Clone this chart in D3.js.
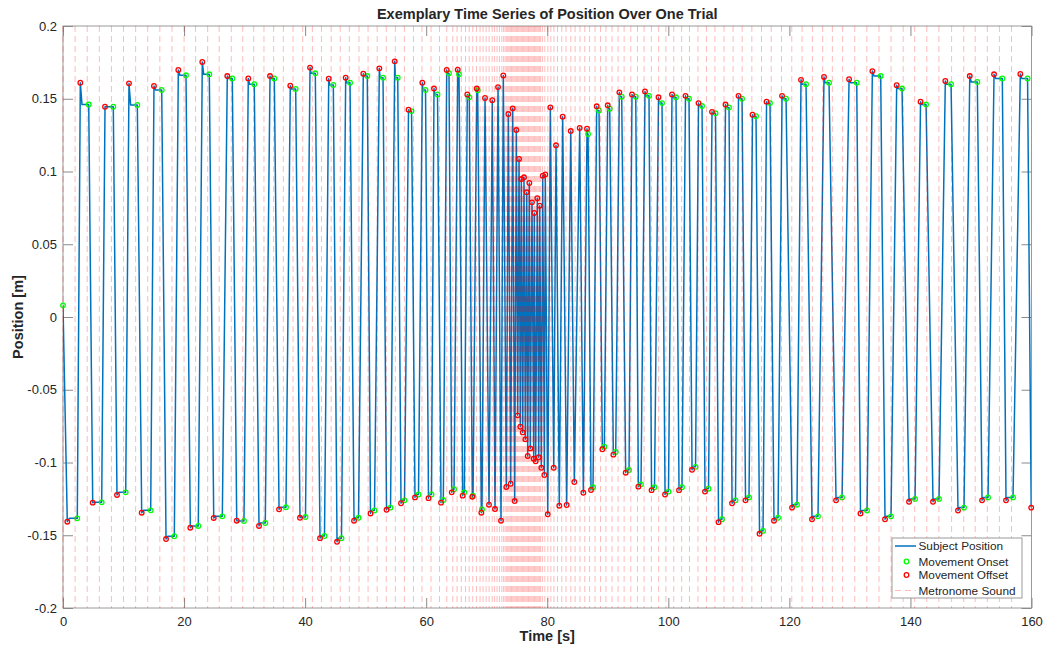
<!DOCTYPE html>
<html>
<head>
<meta charset="utf-8">
<script src="https://cdn.jsdelivr.net/npm/d3@7"></script>
<style>
  body { margin: 0; background: #fff; }
  svg { display: block; }
  text { font-family: "Liberation Sans", Arial, Helvetica, sans-serif; fill: #262626; }
</style>
</head>
<body>
<svg id="chart" width="1044" height="648"></svg>
<script>
// ---- data (time in s, position in m) ----
const onsetTime = [0.00, 2.36, 4.25, 6.39, 8.31, 10.36, 12.28, 14.49, 16.31, 18.39,
  20.32, 22.35, 24.17, 26.32, 27.97, 29.90, 31.60, 33.42, 34.91, 36.84,
  38.44, 40.06, 41.68, 43.20, 44.66, 46.01, 47.42, 48.82, 50.27, 51.46,
  52.87, 54.11, 55.30, 56.42, 57.58, 58.73, 59.89, 60.88, 61.87, 62.83,
  63.77, 64.60, 65.42, 66.30, 67.12, 67.74, 68.51, 69.22,
  86.74, 87.56, 88.55, 89.43, 90.32, 91.31, 92.30, 93.51, 94.62,
  95.49, 96.81, 97.72, 98.96, 100.03, 101.27, 102.26, 103.42, 104.50, 105.57,
  106.64, 107.80, 108.87, 110.03, 111.10, 112.18, 113.33, 114.49, 115.65, 116.80,
  118.13, 119.45, 121.26, 122.75, 124.73, 126.55, 128.70, 131.13, 132.83, 135.09,
  136.79, 138.61, 140.76, 142.58, 144.72, 146.71, 148.85, 151.05, 152.82, 155.18, 156.95,
  159.35];

const onsetPos = [0.008, -0.1384, 0.146, -0.1274, 0.1445, -0.1205, 0.1457, -0.1329, 0.156, -0.1507,
  0.1661, -0.1436, 0.1668, -0.137, 0.164, -0.1402, 0.160, -0.1416, 0.164, -0.1308,
  0.1567, -0.1375, 0.1675, -0.1505, 0.1595, -0.152, 0.161, -0.138, 0.1656, -0.133,
  0.1645, -0.131, 0.1645, -0.126, 0.1415, -0.122, 0.156, -0.122, 0.153, -0.1258,
  0.1675, -0.1184, 0.1668, -0.1205, 0.151, -0.1228, 0.1558, -0.1322,
  0.1258, -0.117, 0.142, -0.0891, 0.1432, -0.0928, 0.1514, -0.1052, 0.1514,
  -0.115, 0.152, -0.117, 0.147, -0.120, 0.151, -0.117, 0.150, -0.103, 0.145,
  -0.118, 0.140, -0.139, 0.144, -0.126, 0.150, -0.124, 0.138, -0.147, 0.147,
  -0.138, 0.150, -0.129, 0.160, -0.137, 0.161, -0.124, 0.161, -0.133, 0.1656,
  -0.137, 0.157, -0.125, 0.146, -0.125, 0.160, -0.131, 0.1615, -0.124, 0.164, -0.124,
  0.164];

const offsetTime = [0.71, 2.86, 4.91, 6.94, 8.92, 10.90, 13.00, 15.03, 17.02, 19.05,
  21.03, 23.01, 24.90, 27.14, 28.70, 30.61, 32.38, 34.20, 35.69, 37.55,
  39.15, 40.81, 42.46, 43.90, 45.27, 46.70, 48.08, 49.61, 50.80, 52.26,
  53.45, 54.80, 55.84, 57.08, 58.15, 59.36, 60.38, 61.29, 62.45, 63.39,
  64.22, 65.21, 66.03, 66.79, 67.62, 68.35, 69.11, 69.72, 70.38, 70.92,
  71.37, 71.87, 72.36, 72.74, 73.24, 73.57, 73.96, 74.29, 74.62, 74.89,
  75.12, 75.34, 75.55, 75.72, 75.95, 76.16, 76.38, 76.61, 76.77, 77.04,
  77.20, 77.48, 77.76, 77.86, 78.09, 78.36, 78.59, 78.76, 79.02, 79.25,
  79.52, 79.68, 80.08, 80.51, 81.07, 81.45, 81.99, 82.55, 83.21, 83.88,
  84.47, 85.36, 85.96, 86.57, 87.23, 88.17, 89.10, 89.99, 90.92, 91.91,
  92.96, 94.00, 95.05, 96.15, 97.23, 98.38, 99.46, 100.61, 101.77, 102.84,
  103.92, 104.99, 106.06, 107.22, 108.30, 109.45, 110.53, 111.60, 112.76, 113.91,
  115.07, 116.23, 117.46, 118.79, 120.44, 121.92, 123.74, 125.72, 127.71, 129.86,
  131.75, 133.71, 135.80, 137.73, 139.77, 141.67, 143.73, 145.76, 147.86, 149.80,
  151.83, 153.81, 155.79, 158.15, 159.95];

const offsetPos = [-0.1407, 0.161, -0.1276, 0.1445, -0.1223, 0.1606, -0.1345, 0.1588, -0.1526, 0.1698,
  -0.1448, 0.1753, -0.1381, 0.1656, -0.140, 0.164, -0.1436, 0.1656, -0.1322, 0.159,
  -0.138, 0.1714, -0.152, 0.1638, -0.1545, 0.1645, -0.140, 0.1672, -0.135, 0.1709,
  -0.1325, 0.1757, -0.128, 0.1425, -0.124, 0.161, -0.1245, 0.157, -0.1276, 0.1698,
  -0.1205, 0.170, -0.1228, 0.153, -0.1235, 0.157, -0.1345, 0.1505, -0.129, 0.149,
  -0.132, 0.158, -0.14, 0.166, -0.1168, 0.1395, -0.1146, 0.1434, -0.1265, 0.1285,
  -0.0676, 0.1086, -0.0754, 0.0948, -0.0793, 0.096, -0.0841, 0.0857, -0.0955, 0.0921,
  -0.0903, 0.0788, -0.0974, 0.0715, -0.0992, 0.0816, -0.0964, 0.0765, -0.1036, 0.0971,
  -0.1086, 0.098, -0.1356, 0.1441, -0.1036, 0.118, -0.1297, 0.1377, -0.1292, 0.1278,
  -0.1134, 0.1299, -0.1208, 0.1294, -0.1189, 0.1448, -0.0909, 0.1455, -0.0946, 0.1544,
  -0.107, 0.153, -0.1166, 0.155, -0.119, 0.151, -0.122, 0.153, -0.119, 0.152,
  -0.105, 0.147, -0.12, 0.141, -0.141, 0.146, -0.128, 0.152, -0.126, 0.139,
  -0.149, 0.148, -0.140, 0.152, -0.131, 0.163, -0.139, 0.165, -0.126, 0.1634,
  -0.135, 0.169, -0.139, 0.1593, -0.127, 0.148, -0.127, 0.1622, -0.133, 0.1656,
  -0.126, 0.1668, -0.126, 0.167, -0.131];

const metronomeTimes = [0, 2, 4, 6, 8, 10, 12, 14, 16, 18, 20, 21.9, 23.9, 25.8, 27.8, 29.7,
  31.5, 33.2, 34.8, 36.4, 38.0, 39.6, 41.2, 42.7, 44.3, 45.8, 47.3, 48.9, 50.4, 51.9,
  53.4, 54.9, 56.4, 57.9, 59.3, 60.8, 62.2, 63.4, 64.4, 65.1, 65.8, 66.5, 67.1, 67.7,
  68.3, 68.9, 69.4, 69.9, 70.4, 70.9, 71.3, 71.7, 72.1, 72.5, 72.8,
  73.05, 73.3, 73.5, 73.7, 73.9, 74.1, 74.3, 74.5, 74.7, 74.9, 75.1, 75.3, 75.5,
  75.7, 75.9, 76.1, 76.3, 76.5, 76.7, 76.9, 77.1, 77.3, 77.5, 77.7, 77.9, 78.1,
  78.3, 78.5, 78.7, 78.9, 79.2, 79.6, 80.1, 80.6, 81.1, 81.7, 82.4,
  83.1, 83.9, 84.6, 85.4, 86.2, 87.0, 87.9, 88.8, 89.7, 90.7, 91.7, 92.7, 93.8,
  94.9, 96.0, 97.2, 98.4, 99.6, 100.9, 102.2, 103.5, 104.9, 106.3, 107.7, 109.2,
  110.7, 112.2, 113.8, 115.4, 117.0, 118.7, 120.4, 122.1, 123.8, 125.5, 127.1,
  128.8, 130.8, 132.8, 134.8, 136.8, 138.8, 140.7, 142.7, 144.7, 146.8, 148.8,
  150.7, 152.7, 154.7, 156.7];

const xTicks = [0, 20, 40, 60, 80, 100, 120, 140, 160];
const yTicks = [-0.2, -0.15, -0.1, -0.05, 0, 0.05, 0.1, 0.15, 0.2];

const titleText = "Exemplary Time Series of Position Over One Trial";
const xLabel = "Time [s]";
const yLabel = "Position [m]";
const legendLabels = ["Subject Position", "Movement Onset", "Movement Offset", "Metronome Sound"];

// ---- layout ----
const W = 1044, H = 648;
const plot = { left: 63, right: 1031.5, top: 26, bottom: 608 };
const colors = { trace: "#0072BD", onset: "#00FF00", offset: "#FF0000", metro: "rgba(255,0,0,0.27)", axis: "#262626" };

const svg = d3.select("#chart");
svg.append("rect").attr("width", W).attr("height", H).attr("fill", "#fff");

const x = d3.scaleLinear().domain([0, 160]).range([plot.left, plot.right]);
const y = d3.scaleLinear().domain([-0.2, 0.2]).range([plot.bottom, plot.top]);

// axes box
svg.append("rect")
  .attr("x", plot.left).attr("y", plot.top)
  .attr("width", plot.right - plot.left).attr("height", plot.bottom - plot.top)
  .attr("fill", "#fff").attr("stroke", "#9a9a9a").attr("stroke-width", 1);

const fmtY = d => String(+d.toFixed(2));
const tickLen = 10;

const gx = svg.append("g").attr("transform", `translate(0,${plot.bottom})`)
  .call(d3.axisBottom(x).tickValues(xTicks).tickSizeInner(-tickLen).tickSizeOuter(0).tickPadding(8).tickFormat(d3.format("d")));
const gxTop = svg.append("g").attr("transform", `translate(0,${plot.top})`)
  .call(d3.axisTop(x).tickValues(xTicks).tickSizeInner(-tickLen).tickSizeOuter(0).tickFormat(""));
const gy = svg.append("g").attr("transform", `translate(${plot.left},0)`)
  .call(d3.axisLeft(y).tickValues(yTicks).tickSizeInner(-tickLen).tickSizeOuter(0).tickPadding(6).tickFormat(fmtY));
const gyRight = svg.append("g").attr("transform", `translate(${plot.right},0)`)
  .call(d3.axisRight(y).tickValues(yTicks).tickSizeInner(-tickLen).tickSizeOuter(0).tickFormat(""));

[gx, gxTop, gy, gyRight].forEach(g => {
  g.select(".domain").remove();
  g.selectAll(".tick line").attr("stroke", "#8a8a8a").attr("stroke-width", 1);
  g.selectAll(".tick text").attr("font-size", 13).attr("fill", colors.axis)
    .attr("font-family", '"Liberation Sans", Arial, sans-serif');
});
gx.selectAll(".tick text").attr("dy", "0.75em");

// trace: onsets and offsets merged in time order, with a short settle before each dwell
const events = [];
onsetTime.forEach((t, i) => events.push({ t, v: onsetPos[i], kind: "on" }));
offsetTime.forEach((t, i) => events.push({ t, v: offsetPos[i], kind: "off" }));
events.sort((a, b) => a.t - b.t);
const trace = [];
events.forEach((e, i) => {
  trace.push(e);
  const nx = events[i + 1];
  if (e.kind === "off" && nx && nx.kind === "on") {
    trace.push({ t: e.t + 0.2 * (nx.t - e.t), v: nx.v });
  }
});

svg.append("clipPath").attr("id", "plotClip").append("rect")
  .attr("x", plot.left).attr("y", plot.top)
  .attr("width", plot.right - plot.left).attr("height", plot.bottom - plot.top);

const line = d3.line().x(d => x(d.t)).y(d => y(d.v));
svg.append("g").attr("clip-path", "url(#plotClip)")
  .append("path").datum(trace)
  .attr("d", line).attr("fill", "none")
  .attr("stroke", colors.trace).attr("stroke-width", 1.5).attr("stroke-linejoin", "round");

svg.append("g").selectAll("circle").data(onsetTime.map((t, i) => ({ t, v: onsetPos[i] })))
  .join("circle").attr("cx", d => x(d.t)).attr("cy", d => y(d.v)).attr("r", 2.3)
  .attr("fill", "none").attr("stroke", colors.onset).attr("stroke-width", 1.3);

svg.append("g").selectAll("circle").data(offsetTime.map((t, i) => ({ t, v: offsetPos[i] })))
  .join("circle").attr("cx", d => x(d.t)).attr("cy", d => y(d.v)).attr("r", 2.3)
  .attr("fill", "none").attr("stroke", colors.offset).attr("stroke-width", 1.3);

// metronome beats
svg.append("g").selectAll("line").data(metronomeTimes).join("line")
  .attr("x1", d => x(d)).attr("x2", d => x(d))
  .attr("y1", plot.top).attr("y2", plot.bottom)
  .attr("stroke", colors.metro).attr("stroke-width", 1)
  .attr("stroke-dasharray", "6,4");

// titles
svg.append("text").attr("x", (plot.left + plot.right) / 2).attr("y", 19)
  .attr("text-anchor", "middle").attr("font-weight", "bold").attr("font-size", 14.5)
  .attr("fill", "#000").text(titleText);
svg.append("text").attr("x", (plot.left + plot.right) / 2).attr("y", 641)
  .attr("text-anchor", "middle").attr("font-weight", "bold").attr("font-size", 14.5)
  .attr("fill", "#262626").text(xLabel);
svg.append("text").attr("transform", `translate(23,${(plot.top + plot.bottom) / 2}) rotate(-90)`)
  .attr("text-anchor", "middle").attr("font-weight", "bold").attr("font-size", 14.5)
  .attr("fill", "#262626").text(yLabel);

// legend
const lg = svg.append("g").attr("transform", "translate(892,538)");
lg.append("rect").attr("width", 130).attr("height", 60).attr("fill", "#fff")
  .attr("stroke", "#9a9a9a").attr("stroke-width", 1);
const rowY = [8, 23.5, 37, 52.5];
lg.append("line").attr("x1", 3).attr("x2", 24).attr("y1", rowY[0]).attr("y2", rowY[0])
  .attr("stroke", colors.trace).attr("stroke-width", 1.5);
lg.append("circle").attr("cx", 14.5).attr("cy", rowY[1]).attr("r", 2.3)
  .attr("fill", "none").attr("stroke", colors.onset).attr("stroke-width", 1.3);
lg.append("circle").attr("cx", 14.5).attr("cy", rowY[2]).attr("r", 2.3)
  .attr("fill", "none").attr("stroke", colors.offset).attr("stroke-width", 1.3);
lg.append("line").attr("x1", 3).attr("x2", 24).attr("y1", rowY[3]).attr("y2", rowY[3])
  .attr("stroke", colors.metro).attr("stroke-width", 1).attr("stroke-dasharray", "6,4");
lg.selectAll("text.lab").data(legendLabels).join("text").attr("class", "lab")
  .attr("x", 26.5).attr("y", (d, i) => rowY[i]).attr("dy", "0.35em")
  .attr("font-size", 11.8).attr("fill", "#000").text(d => d);
</script>
</body>
</html>
